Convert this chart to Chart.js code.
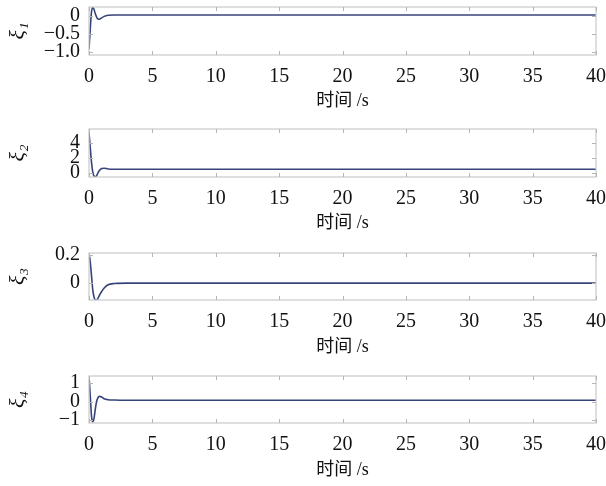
<!DOCTYPE html>
<html>
<head>
<meta charset="utf-8">
<script src="https://cdn.jsdelivr.net/npm/chart.js@4"></script>
<style>
  html, body { margin: 0; padding: 0; background: #fff; }
  #wrap { position: relative; width: 606px; height: 486px; }
  .panel { position: absolute; left: 0; width: 606px; height: 120px; }
</style>
</head>
<body>
<div id="wrap">
  <div class="panel" style="top:0px"><canvas id="c1" width="606" height="120"></canvas></div>
  <div class="panel" style="top:122px"><canvas id="c2" width="606" height="120"></canvas></div>
  <div class="panel" style="top:246px"><canvas id="c3" width="606" height="120"></canvas></div>
  <div class="panel" style="top:369px"><canvas id="c4" width="606" height="120"></canvas></div>
</div>
<script>
// time samples (s), shared by the four states
const timeS = [0, 0.1, 0.2, 0.3, 0.4, 0.5, 0.6, 0.7, 0.8, 1.0, 1.2, 1.5, 2, 3, 5, 10, 20, 30, 40];

// state responses
const xi1 = [-0.92, -0.35, 0.12, 0.24, 0.18, 0.06, -0.03, -0.08, -0.09, -0.05, -0.01, 0.02, 0.03, 0.03, 0.03, 0.03, 0.03, 0.03, 0.03];
const xi2 = [5.4, 3.4, 1.4, 0.1, -0.4, -0.5, -0.35, 0.0, 0.3, 0.6, 0.65, 0.55, 0.5, 0.5, 0.5, 0.5, 0.5, 0.5, 0.5];
const xi3 = [0.21, 0.15, 0.05, -0.05, -0.1, -0.12, -0.12, -0.11, -0.09, -0.06, -0.035, -0.012, -0.003, 0, 0, 0, 0, 0, 0];
const xi4 = [1.35, 0.3, -0.8, -1.1, -0.9, -0.4, 0.0, 0.2, 0.28, 0.25, 0.15, 0.1, 0.08, 0.07, 0.07, 0.07, 0.07, 0.07, 0.07];

// axis ticks
const xTicks = [0, 5, 10, 15, 20, 25, 30, 35, 40];
const yTicks1 = [-1.0, -0.5, 0];
const yLabels1 = ['\u22121.0', '\u22120.5', '0'];
const yTicks2 = [0, 2, 4];
const yLabels2 = ['0', '2', '4'];
const yTicks3 = [0, 0.2];
const yLabels3 = ['0', '0.2'];
const yTicks4 = [-1, 0, 1];
const yLabels4 = ['\u22121', '0', '1'];

const xTitle = '时间 /s';
const SERIF = '"Liberation Serif", "DejaVu Serif", serif';

// light grey frame with inward tick marks, like the original figure
const frameTicks = {
  id: 'frameTicks',
  afterDraw(chart) {
    const { ctx, chartArea: a, scales } = chart;
    ctx.save();
    ctx.strokeStyle = '#c9c9c9';
    ctx.lineWidth = 1.2;
    ctx.strokeRect(a.left, a.top, a.right - a.left, a.bottom - a.top);
    ctx.lineWidth = 1;
    ctx.strokeStyle = '#b5b5b5';
    ctx.beginPath();
    scales.x.ticks.forEach(t => {
      const x = Math.round(scales.x.getPixelForValue(t.value)) + 0.5;
      ctx.moveTo(x, a.top); ctx.lineTo(x, a.top + 4);
      ctx.moveTo(x, a.bottom); ctx.lineTo(x, a.bottom - 4);
    });
    scales.y.ticks.forEach(t => {
      const y = Math.round(scales.y.getPixelForValue(t.value)) + 0.5;
      ctx.moveTo(a.left, y); ctx.lineTo(a.left + 4, y);
      ctx.moveTo(a.right, y); ctx.lineTo(a.right - 4, y);
    });
    ctx.stroke();
    ctx.restore();
  }
};

function makePanel(id, values, yMin, yMax, yTicks, yLabels, yTitle, plotH) {
  const pts = timeS.map((t, i) => ({ x: t, y: values[i] }));
  return new Chart(document.getElementById(id), {
    type: 'line',
    data: {
      datasets: [{
        data: pts,
        borderColor: '#37447a',
        borderWidth: 1.6,
        pointRadius: 0,
        cubicInterpolationMode: 'monotone',
        fill: false,
      }]
    },
    options: {
      responsive: false,
      animation: false,
      layout: { padding: { left: 0, right: 10, top: 7, bottom: 0 } },
      plugins: { legend: { display: false }, tooltip: { enabled: false } },
      scales: {
        x: {
          type: 'linear',
          min: 0,
          max: 40,
          afterBuildTicks(scale) { scale.ticks = xTicks.map(v => ({ value: v })); },
          afterFit(scale) {
            scale.height = 120 - 7 - plotH;
            scale.paddingLeft = 0;
            scale.paddingRight = 0;
          },
          grid: { display: false, drawTicks: false },
          border: { display: false },
          ticks: {
            autoSkip: false, maxRotation: 0, padding: 10,
            color: '#111', font: { family: SERIF, size: 20 },
          },
          title: {
            display: true, text: xTitle, color: '#111',
            font: { family: SERIF + ', "Noto Sans CJK SC"', size: 18 },
            padding: { top: 0, bottom: 8 },
          },
        },
        y: {
          min: yMin,
          max: yMax,
          afterBuildTicks(scale) { scale.ticks = yTicks.map(v => ({ value: v })); },
          afterFit(scale) {
            scale.width = 89;
            scale.paddingTop = 0;
            scale.paddingBottom = 0;
          },
          grid: { display: false, drawTicks: false },
          border: { display: false },
          ticks: {
            autoSkip: false,
            padding: 9, color: '#111', font: { family: SERIF, size: 20, lineHeight: 0.9 },
            callback(val) {
              const i = yTicks.findIndex(v => Math.abs(v - val) < 1e-9);
              return i >= 0 ? yLabels[i] : '';
            },
          },
          title: {
            display: true, text: yTitle, color: '#111',
            font: { family: SERIF, size: 22, style: 'italic' },
            padding: { top: 5, bottom: 0 },
          },
        },
      },
    },
    plugins: [frameTicks],
  });
}

makePanel('c1', xi1, -1.08, 0.25, yTicks1, yLabels1, 'ξ\u2081', 48);
makePanel('c2', xi2, -0.53, 5.9, yTicks2, yLabels2, 'ξ\u2082', 48);
makePanel('c3', xi3, -0.12, 0.214, yTicks3, yLabels3, 'ξ\u2083', 47);
makePanel('c4', xi4, -1.16, 1.38, yTicks4, yLabels4, 'ξ\u2084', 47);
</script>
</body>
</html>
